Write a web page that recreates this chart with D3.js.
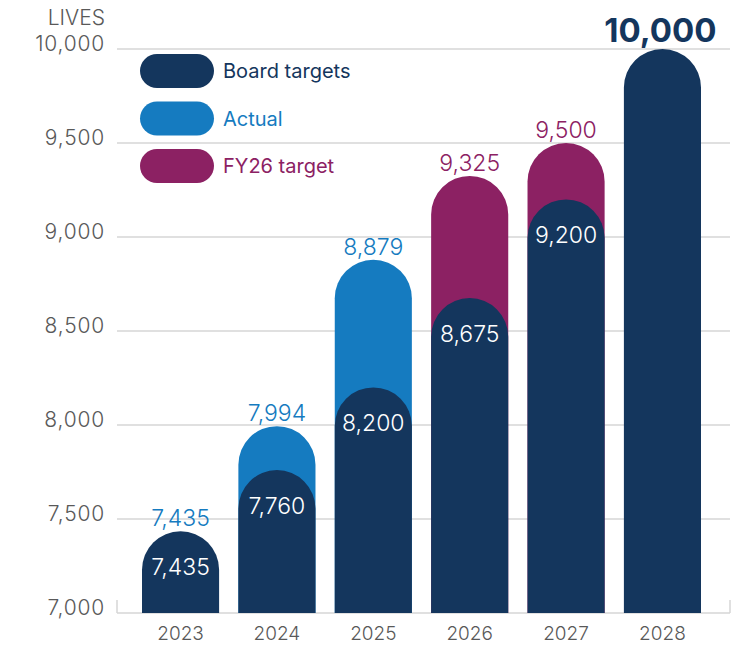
<!DOCTYPE html>
<html>
<head>
<meta charset="utf-8">
<script src="https://cdn.jsdelivr.net/npm/d3@7"></script>
<style>
  body { margin: 0; background: #fff; }
  svg text { font-family: Inter, "Noto Sans", sans-serif; }
</style>
</head>
<body>
<div id="chart"></div>
<script>
var years = ["2023", "2024", "2025", "2026", "2027", "2028"];
var boardTargets = [7435, 7760, 8200, 8675, 9200, 10000];
var actual = [7435, 7994, 8879, null, null, null];
var fy26Target = [null, null, null, 9325, 9500, null];
var yTicks = [7000, 7500, 8000, 8500, 9000, 9500, 10000];
var legendItems = ["Board targets", "Actual", "FY26 target"];

var boardColor = "#14365d";
var actualColor = "#157bc0";
var fy26Color = "#8c2163";
var gridColor = "#d6d6d6";
var tickColor = "#595959";

var width = 749, height = 646;
var margin = { top: 49, right: 19, bottom: 33, left: 117 };

var svg = d3.select("#chart")
    .append("svg")
    .attr("width", width)
    .attr("height", height);

var x = d3.scaleBand()
    .domain(years)
    .range([142, 701])
    .paddingInner(0.2)
    .paddingOuter(0);

var y = d3.scaleLinear()
    .domain([7000, 10000])
    .range([height - margin.bottom, margin.top]);

// gridlines
svg.append("g")
    .selectAll("line")
    .data(yTicks)
    .join("line")
    .attr("x1", margin.left)
    .attr("x2", width - margin.right)
    .attr("y1", d => y(d))
    .attr("y2", d => y(d))
    .attr("stroke", gridColor)
    .attr("stroke-width", 1.5);

// little end ticks on the base line
svg.append("g")
    .selectAll("line")
    .data([margin.left, width - margin.right])
    .join("line")
    .attr("x1", d => d)
    .attr("x2", d => d)
    .attr("y1", y(7000) - 13)
    .attr("y2", y(7000))
    .attr("stroke", gridColor)
    .attr("stroke-width", 1.5);

// y tick labels
svg.append("g")
    .selectAll("text")
    .data(yTicks)
    .join("text")
    .attr("x", 105)
    .attr("y", d => y(d) + 2)
    .attr("text-anchor", "end")
    .attr("font-size", 21)
    .attr("letter-spacing", 0.8)
    .attr("font-weight", 300)
    .attr("fill", tickColor)
    .text(d => d3.format(",")(d));

svg.append("text")
    .attr("x", 105)
    .attr("y", 25)
    .attr("text-anchor", "end")
    .attr("font-size", 21)
    .attr("font-weight", 300)
    .attr("fill", tickColor)
    .text("LIVES");

// x labels
svg.append("g")
    .selectAll("text")
    .data(years)
    .join("text")
    .attr("x", d => x(d) + x.bandwidth() / 2)
    .attr("y", 640)
    .attr("text-anchor", "middle")
    .attr("font-size", 19)
    .attr("font-weight", 300)
    .attr("fill", tickColor)
    .text(d => d);

function pillBar(xPos, w, top, bottom) {
    var r = w / 2;
    return "M" + xPos + "," + bottom +
        "L" + xPos + "," + (top + r) +
        "A" + r + "," + r + " 0 0 1 " + (xPos + w) + "," + (top + r) +
        "L" + (xPos + w) + "," + bottom + "Z";
}

var rows = years.map(function (yr, i) {
    return { year: yr, board: boardTargets[i], actual: actual[i], fy26: fy26Target[i] };
});

var bars = svg.append("g");

// back layer: actual / FY26 target
var backRows = rows.filter(d => (d.actual && d.actual > d.board) || d.fy26);
bars.selectAll("path.back")
    .data(backRows)
    .join("path")
    .attr("class", "back")
    .attr("fill", d => d.fy26 ? fy26Color : actualColor)
    .attr("d", d => pillBar(x(d.year), x.bandwidth(), y(d.fy26 || d.actual), y(7000)));

// front layer: board targets
bars.selectAll("path.front")
    .data(rows)
    .join("path")
    .attr("class", "front")
    .attr("fill", boardColor)
    .attr("d", d => pillBar(x(d.year), x.bandwidth(), y(d.board), y(7000)));

// labels inside board bars
svg.append("g")
    .selectAll("text")
    .data(rows.filter(d => d.year !== "2028"))
    .join("text")
    .attr("x", d => x(d.year) + x.bandwidth() / 2)
    .attr("y", d => y(d.board) + 44)
    .attr("text-anchor", "middle")
    .attr("font-size", 23)
    .attr("font-weight", 300)
    .attr("fill", "#ffffff")
    .text(d => d3.format(",")(d.board));

// labels above actual / FY26 bars
var topRows = rows.filter(d => d.actual || d.fy26);
svg.append("g")
    .selectAll("text")
    .data(topRows)
    .join("text")
    .attr("x", d => x(d.year) + x.bandwidth() / 2)
    .attr("y", d => y(d.fy26 || d.actual) - 5)
    .attr("text-anchor", "middle")
    .attr("font-size", 23)
    .attr("font-weight", 300)
    .attr("fill", d => d.fy26 ? fy26Color : actualColor)
    .text(d => d3.format(",")(d.fy26 || d.actual));

// big label on final board target
svg.append("text")
    .attr("x", x("2028") + x.bandwidth() / 2 - 2)
    .attr("y", 42)
    .attr("text-anchor", "middle")
    .attr("font-size", 33)
    .attr("font-weight", 700)
    .attr("fill", boardColor)
    .text(d3.format(",")(boardTargets[5]));

// legend
var legendColors = [boardColor, actualColor, fy26Color];
var legend = svg.append("g")
    .selectAll("g")
    .data(legendItems)
    .join("g")
    .attr("transform", (d, i) => "translate(140," + (54 + i * 47.5) + ")");

legend.append("rect")
    .attr("width", 74)
    .attr("height", 34)
    .attr("rx", 17)
    .attr("fill", (d, i) => legendColors[i]);

legend.append("text")
    .attr("x", 83)
    .attr("y", 24)
    .attr("font-size", 20)
    .attr("font-weight", 400)
    .attr("fill", (d, i) => legendColors[i])
    .text(d => d);
</script>
</body>
</html>
